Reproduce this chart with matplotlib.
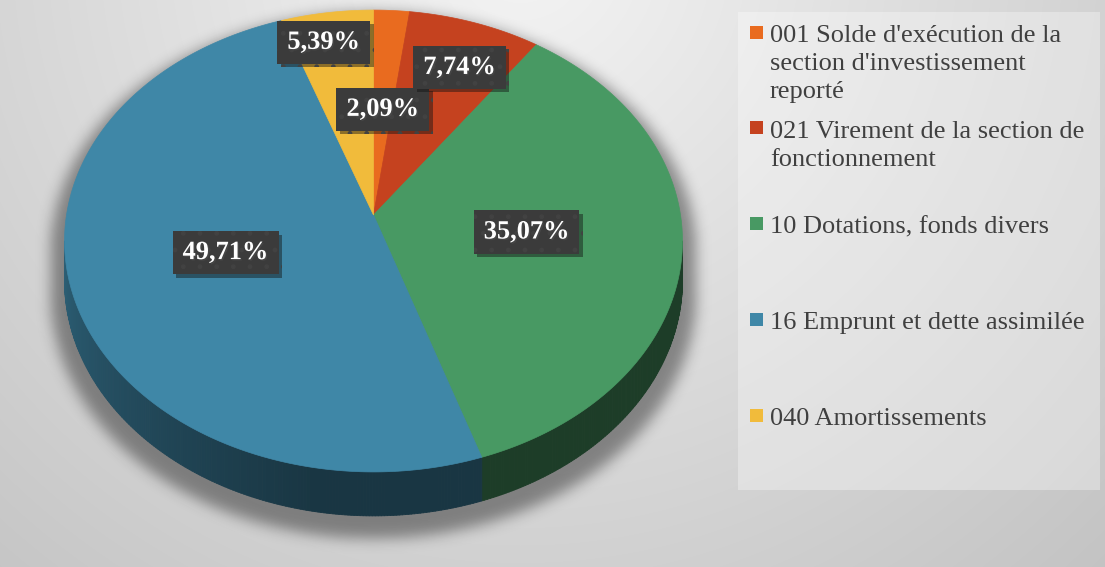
import numpy as np
import matplotlib
matplotlib.use('Agg')
import matplotlib.pyplot as plt
from matplotlib.patches import Polygon, Rectangle
from matplotlib.collections import PolyCollection
from matplotlib.path import Path
import matplotlib.patheffects as pe
import matplotlib.colors as mcolors

# ---------------- data ----------------
categories = ["001 Solde d'exécution de la\nsection d'investissement\nreporté",
              "021 Virement de la section de\nfonctionnement",
              "10 Dotations, fonds divers",
              "16 Emprunt et dette assimilée",
              "040 Amortissements"]
values = [2.09, 7.74, 35.07, 49.71, 5.39]
value_labels = ["2,09%", "7,74%", "35,07%", "49,71%", "5,39%"]
colors = ['#e96b1f', '#c5421f', '#489963', '#3f87a7', '#f1bb3b']

# ---------------- layout ----------------
W, H = 1105, 567
CX, CY, A, B, K, D0 = 373.5, 215.0, 307.0, 228.0, 0.1126, 39.0
label_r = [0.49, 0.75, 0.5, 0.5, 0.84]
label_dx = [0, 8, 0, 0, -10]
SERIF = ['Liberation Serif', 'DejaVu Serif']

fig = plt.figure(figsize=(W / 100, H / 100), dpi=100)
ax = fig.add_axes([0, 0, 1, 1])
ax.axis('off')

# background gradient
yy, xx = np.mgrid[0:H, 0:W]
dist = np.hypot(xx - 520, yy + 50)
v = np.clip((244 - 40 * dist / 700) / 255, 0, 1)
ax.imshow(np.dstack([v, v, v]), extent=(0, W, H, 0), zorder=0, interpolation='bilinear')


def wfac(theta):
    return 1 + K * np.cos(np.radians(theta))


def proj(theta, r=1.0):
    t = np.radians(theta)
    u = r * np.sin(t)
    vv = r * np.cos(t)
    w = 1 + K * vv
    return CX + A * u / w, CY - B * vv / w


# angles (clockwise from top, degrees)
total = sum(values)
bounds = np.concatenate([[0], np.cumsum(values) / total * 360])

# ---------------- shadow ----------------
t_front0 = np.degrees(np.arccos(-K))          # ~96.5
t_front1 = 360 - t_front0                      # ~263.5
back = np.linspace(t_front1, t_front0 + 360, 300) % 360
front = np.linspace(t_front0, t_front1, 300)
sil = [proj(t) for t in back]
sil += [(proj(t)[0], proj(t)[1] + D0 / wfac(t)) for t in front]
sil = np.array(sil)
sh = sil.copy()
sh[:, 0] = CX + (sh[:, 0] - CX) * 1.045
sh[:, 1] = sh[:, 1] * 1.04 + 2
mask = Path(sh).contains_points(np.c_[xx.ravel() + 0.5, yy.ravel() + 0.5]).reshape(H, W).astype(float)
sig = 7
kx = np.arange(-3 * sig, 3 * sig + 1)
kern = np.exp(-kx ** 2 / (2 * sig ** 2))
kern /= kern.sum()
blur = np.apply_along_axis(lambda r: np.convolve(r, kern, mode='same'), 1, mask)
blur = np.apply_along_axis(lambda c: np.convolve(c, kern, mode='same'), 0, blur)
shadow = np.zeros((H, W, 4))
shadow[..., 3] = 0.4 * blur
ax.imshow(shadow, extent=(0, W, H, 0), zorder=1, interpolation='bilinear')

# ---------------- side walls ----------------
def shade(theta):
    return 0.40 + 0.30 * np.clip((theta - 190) / 73.0, 0, 1)

quads, qcols = [], []
for i in range(len(values)):
    a0 = max(bounds[i], t_front0)
    a1 = min(bounds[i + 1], t_front1)
    if a1 <= a0:
        continue
    ts = np.linspace(a0, a1, max(int((a1 - a0) * 2), 2) + 1)
    base = np.array(mcolors.to_rgb(colors[i]))
    for ta, tb in zip(ts[:-1], ts[1:]):
        p1 = proj(ta); p2 = proj(tb)
        q = [p1, p2, (p2[0], p2[1] + D0 / wfac(tb)), (p1[0], p1[1] + D0 / wfac(ta))]
        quads.append(q)
        qcols.append(np.clip(base * shade((ta + tb) / 2), 0, 1))
pc = PolyCollection(quads, facecolors=qcols, edgecolors=qcols, linewidths=0.6, zorder=2)
ax.add_collection(pc)

# ---------------- top surface ----------------
for i in range(len(values)):
    ts = np.linspace(bounds[i], bounds[i + 1], max(int((bounds[i + 1] - bounds[i]) * 2), 2) + 1)
    pts = [(CX, CY)] + [proj(t) for t in ts]
    ax.add_patch(Polygon(pts, closed=True, facecolor=colors[i], edgecolor=colors[i],
                         linewidth=0.5, zorder=3))

# ---------------- data labels ----------------
for i in range(len(values)):
    mid = (bounds[i] + bounds[i + 1]) / 2
    x, y = proj(mid, label_r[i])
    t = ax.text(x + label_dx[i], y, value_labels[i], ha='center', va='center', color='white',
                fontsize=19, fontweight='bold', family=SERIF, zorder=6,
                bbox=dict(boxstyle='square,pad=0.38', facecolor='#3b3b3b',
                          edgecolor='#424242', linewidth=0, hatch='.'))
    t.get_bbox_patch().set_path_effects([pe.SimplePatchShadow(offset=(2.5, -2.5), alpha=0.45),
                                         pe.Normal()])
    t.set_path_effects([pe.withSimplePatchShadow(offset=(1, -1), alpha=0.6)])

# ---------------- legend ----------------
ax.add_patch(Rectangle((738, 12), 362, 478, facecolor='white', alpha=0.32,
                       edgecolor='none', zorder=2))
for i, cat in enumerate(categories):
    yc = 32 + i * 95.75
    ax.add_patch(Rectangle((750, yc - 6.5), 13, 13, facecolor=colors[i],
                           edgecolor='none', zorder=4))
    ax.text(770, yc - 7, cat, ha='left', va='top', color='#404040',
            fontsize=19, family=SERIF, linespacing=1.35, zorder=4)

ax.set_xlim(0, W)
ax.set_ylim(H, 0)
fig.savefig('out.png', dpi=100)
